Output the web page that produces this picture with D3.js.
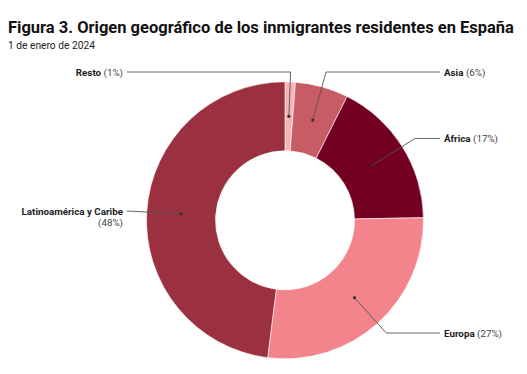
<!DOCTYPE html>
<html>
<head>
<meta charset="utf-8">
<script src="https://cdn.jsdelivr.net/npm/d3@7"></script>
<style>
  html, body { margin: 0; padding: 0; background: #fff; }
  svg { display: block; font-family: Roboto, "Noto Sans", sans-serif; }
</style>
</head>
<body>
<svg id="chart" width="527" height="374"></svg>
<script>
// ---- data ----
const categories = ["Resto", "Asia", "África", "Europa", "Latinoamérica y Caribe"];
const values     = [1.2, 6.2, 17.3, 27.3, 48.0];
const shareLabels = ["(1%)", "(6%)", "(17%)", "(27%)", "(48%)"];
const colors     = ["#f5b2b7", "#c85c64", "#730022", "#f4848b", "#9b3140"];

const title = "Figura 3. Origen geográfico de los inmigrantes residentes en España";
const subtitle = "1 de enero de 2024";

// ---- layout ----
const W = 527, H = 374;
const cx = 285, cy = 220.3, rOuter = 138.5, rInner = 69.5;
const labelLayout = {
  "Resto":                  { side: "left",  y: 72 },
  "Asia":                   { side: "right", y: 72 },
  "África":                 { side: "right", y: 138.5 },
  "Europa":                 { side: "right", y: 333 },
  "Latinoamérica y Caribe": { side: "left",  y: 211 }
};
const leftTextX = 123, rightTextX = 444;

const svg = d3.select("#chart");

function fitText(sel, targetWidth) {
  const w = sel.node().getComputedTextLength();
  const fs = parseFloat(sel.attr("font-size"));
  if (w > 0) sel.attr("font-size", fs * targetWidth / w);
}

const tTitle = svg.append("text")
  .attr("x", 8).attr("y", 32.5)
  .attr("font-size", 18).attr("font-weight", 700).attr("fill", "#111")
  .text(title);
fitText(tTitle, 506);

const tSub = svg.append("text")
  .attr("x", 8).attr("y", 49)
  .attr("font-size", 11).attr("fill", "#222")
  .text(subtitle);
fitText(tSub, 87);

const data = categories.map((c, i) => ({ cat: c, value: values[i], share: shareLabels[i], color: colors[i] }));

const pie = d3.pie().sort(null).value(d => d.value);
const arcs = pie(data);
const arc = d3.arc().innerRadius(rInner).outerRadius(rOuter);
const midArc = d3.arc().innerRadius((rInner + rOuter) / 2).outerRadius((rInner + rOuter) / 2);

const g = svg.append("g").attr("transform", `translate(${cx},${cy})`);

g.selectAll("path.slice").data(arcs).join("path")
  .attr("class", "slice")
  .attr("d", arc)
  .attr("fill", d => d.data.color)
  .attr("stroke", "#fff").attr("stroke-width", 0.6);

const lab = svg.append("g");
arcs.forEach(a => {
  const L = labelLayout[a.data.cat];
  const [mx, my] = midArc.centroid(a);
  const px = cx + mx, py = cy + my;
  const ang = (a.startAngle + a.endAngle) / 2;
  const dx = Math.sin(ang), dy = -Math.cos(ang);
  const endX = L.side === "left" ? leftTextX + 4 : rightTextX - 4;
  let ex, ey;
  if (Math.abs(L.y - py) > 6 && Math.abs(dy) > 0.2) {
    const t = (L.y - py) / dy;
    ex = px + t * dx; ey = L.y;
  } else {
    ex = endX; ey = L.y;
  }
  const pts = [[px, py], [ex, ey], [endX, L.y]];
  lab.append("path")
    .attr("d", d3.line()(pts))
    .attr("fill", "none").attr("stroke", "#555").attr("stroke-width", 0.9);
  lab.append("circle").attr("cx", px).attr("cy", py).attr("r", 1.6).attr("fill", "#333");

  const anchor = L.side === "left" ? "end" : "start";
  const tx = L.side === "left" ? leftTextX : rightTextX;
  if (a.data.cat === "Latinoamérica y Caribe") {
    const t = lab.append("text").attr("x", tx).attr("y", L.y + 3.5)
      .attr("text-anchor", anchor).attr("font-size", 9.8).attr("fill", "#222");
    t.append("tspan").attr("font-weight", 700).text(a.data.cat);
    lab.append("text").attr("x", tx).attr("y", L.y + 14.5)
      .attr("text-anchor", anchor).attr("font-size", 9.8).attr("fill", "#444")
      .text(a.data.share);
  } else {
    const t = lab.append("text").attr("x", tx).attr("y", L.y + 3.5)
      .attr("text-anchor", anchor).attr("font-size", 9.8).attr("fill", "#222");
    t.append("tspan").attr("font-weight", 700).text(a.data.cat);
    t.append("tspan").attr("fill", "#444").text(" " + a.data.share);
  }
});
</script>
</body>
</html>
